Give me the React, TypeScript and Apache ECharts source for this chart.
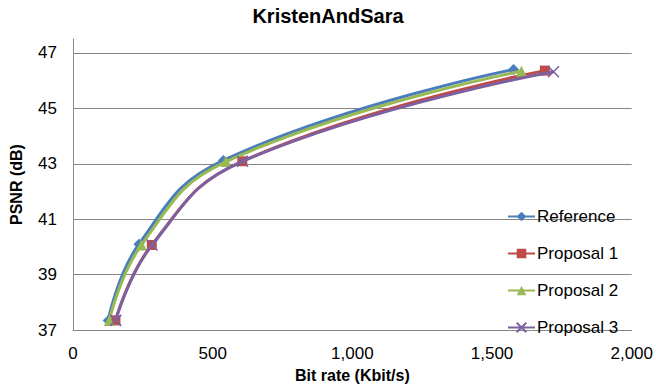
import React, { useEffect, useRef } from "react";
import * as echarts from "echarts";

const seriesNames = ["Reference", "Proposal 1", "Proposal 2", "Proposal 3"];
const refRate = [126, 236, 538, 1577];
const refPsnr = [37.35, 40.1, 43.12, 46.4];
const p1Rate = [152, 282, 606, 1689];
const p1Psnr = [37.35, 40.07, 43.09, 46.36];
const p2Rate = [130, 245, 548, 1605];
const p2Psnr = [37.35, 40.07, 43.08, 46.34];
const p3Rate = [153, 283, 607, 1720];
const p3Psnr = [37.35, 40.07, 43.09, 46.32];
const yTicks = [37, 39, 41, 43, 45, 47];
const yAxisTop = 47.5;
const xTicks = [0, 500, 1000, 1500, 2000];

const colors = ["#4A7EBB", "#BE4B48", "#98B954", "#7D60A0"];
const symbols = [
  "diamond",
  "rect",
  "triangle",
  "path://M0,0 L10,10 M10,0 L0,10",
];
const symbolSizes = [11, 10, 11, 11];

const Y0 = yTicks[0];
const FONT = "Liberation Sans, Arial, sans-serif";

export default function App() {
  const ref = useRef<HTMLDivElement>(null);
  useEffect(() => {
    if (!ref.current) return;
    const chart = echarts.init(ref.current, null, { renderer: "svg" });
    const rates = [refRate, p1Rate, p2Rate, p3Rate];
    const psnrs = [refPsnr, p1Psnr, p2Psnr, p3Psnr];
    chart.setOption({
      animation: false,
      backgroundColor: "#fff",
      textStyle: { fontFamily: FONT },
      title: {
        text: "KristenAndSara",
        left: "center",
        top: 1,
        textStyle: { fontFamily: FONT, fontSize: 20, fontWeight: "bold", color: "#000" },
      },
      legend: {
        orient: "vertical",
        left: 502,
        top: 203,
        itemWidth: 27,
        itemHeight: 12,
        itemGap: 20,
        textStyle: { fontFamily: FONT, fontSize: 17, color: "#000", padding: [0, 0, 0, -3] },
        data: seriesNames,
      },
      grid: { left: 60, right: 23, top: 39, bottom: 49 },
      xAxis: {
        type: "value",
        min: xTicks[0],
        max: xTicks[xTicks.length - 1],
        interval: 500,
        name: "Bit rate (Kbit/s)",
        nameLocation: "middle",
        nameGap: 31,
        nameTextStyle: { fontFamily: FONT, fontSize: 16, fontWeight: "bold", color: "#000" },
        axisLine: { show: true, lineStyle: { color: "#868686", width: 1 } },
        axisTick: { show: false },
        splitLine: { show: false },
        axisLabel: {
          fontFamily: FONT,
          fontSize: 17,
          color: "#000",
          margin: 15,
          formatter: (v: number) => v.toLocaleString("en-US"),
        },
      },
      yAxis: {
        type: "value",
        min: 0,
        max: yAxisTop - Y0,
        interval: 2,
        name: "PSNR (dB)",
        nameLocation: "middle",
        nameRotate: 90,
        nameGap: 49,
        nameTextStyle: { fontFamily: FONT, fontSize: 16, fontWeight: "bold", color: "#000" },
        axisLine: { show: true, lineStyle: { color: "#868686", width: 1 } },
        axisTick: { show: false },
        splitLine: {
          show: true,
          showMaxLine: false,
          lineStyle: { color: "#868686", width: 1 },
        },
        axisLabel: {
          fontFamily: FONT,
          fontSize: 17,
          color: "#000",
          margin: 16,
          showMaxLabel: false,
          formatter: (v: number) => (Number.isInteger(v) ? String(v + Y0) : ""),
        },
      },
      series: seriesNames.map((name, i) => ({
        name,
        type: "line",
        smooth: 0.45,
        symbol: symbols[i],
        symbolSize: symbolSizes[i],
        showSymbol: true,
        z: 2 + i,
        lineStyle: { color: colors[i], width: 3 },
        itemStyle: {
          color: colors[i],
          borderColor: i === 3 ? colors[i] : undefined,
          borderWidth: i === 3 ? 1.5 : 0,
        },
        data: rates[i].map((r, k) => [r, psnrs[i][k] - Y0]),
      })),
    });
    return () => chart.dispose();
  }, []);
  return (
    <div
      ref={ref}
      style={{ position: "absolute", left: 0, top: 0, width: 656, height: 388 }}
    />
  );
}
